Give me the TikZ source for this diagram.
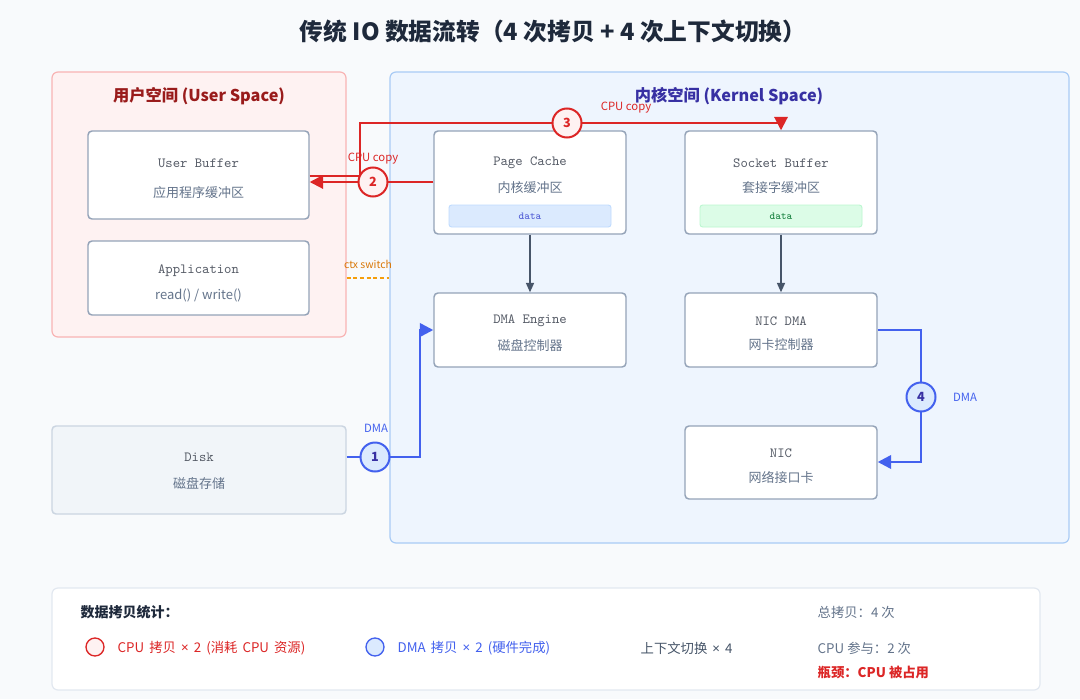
\documentclass[tikz,border=0pt]{standalone}
\usepackage{fontspec}
\setmainfont{Noto Sans CJK SC}
\newfontfamily\legf{Noto Sans CJK SC}[WordSpace=1.7]
\newfontfamily\latf{Noto Sans}
\usetikzlibrary{arrows.meta}
\definecolor{bg}{HTML}{F8FAFC}
\definecolor{userfill}{HTML}{FEF2F2}
\definecolor{userborder}{HTML}{F8B4B4}
\definecolor{usertitle}{HTML}{991B1B}
\definecolor{kernfill}{HTML}{EEF5FE}
\definecolor{kernborder}{HTML}{A9CBF5}
\definecolor{kerntitle}{HTML}{3730A3}
\definecolor{boxborder}{HTML}{94A3B8}
\definecolor{txtgray}{HTML}{475569}
\definecolor{monogray}{HTML}{555B66}
\definecolor{subgray}{HTML}{64748B}
\definecolor{cpured}{HTML}{DC2626}
\definecolor{dmablue}{HTML}{4361EE}
\definecolor{bluefill}{HTML}{DBEAFE}
\definecolor{blueedge}{HTML}{BFDBFE}
\definecolor{greenfill}{HTML}{DCFCE7}
\definecolor{greenedge}{HTML}{BBF7D0}
\definecolor{greentxt}{HTML}{15803D}
\definecolor{datablue}{HTML}{4F5BD5}
\definecolor{ctxtxt}{HTML}{D97706}
\definecolor{ctxline}{HTML}{F59E0B}
\definecolor{diskfill}{HTML}{F1F5F9}
\definecolor{diskedge}{HTML}{CBD5E1}
\definecolor{legedge}{HTML}{E2E8F0}
\definecolor{titlecol}{HTML}{1E293B}
\tikzset{
  region/.style={draw, rounded corners=4.5pt, line width=0.9pt, inner sep=0pt},
  compbox/.style={draw=boxborder, fill=white, rounded corners=3pt, line width=1.1pt, inner sep=0pt},
  monotxt/.style={font=\ttfamily\fontsize{10.5}{12}\selectfont, text=monogray},
  subtxt/.style={font=\fontsize{9.75}{11}\selectfont, text=subgray},
  databar/.style={rounded corners=2pt, line width=0.7pt, inner sep=0pt, minimum width=121.5pt, minimum height=16.5pt, font=\ttfamily\fontsize{8}{9}\selectfont},
  redline/.style={draw=cpured, line width=1.5pt},
  blueline/.style={draw=dmablue, line width=1.9pt},
  redtip/.style={-{Triangle[length=10pt,width=10pt]}},
  bluetip/.style={-{Triangle[length=10pt,width=10pt]}},
  graytip/.style={draw=txtgray, line width=1.1pt, -{Triangle[length=7pt,width=6pt]}},
  redcirc/.style={circle, draw=cpured, fill=userfill, line width=1.5pt, minimum size=21.75pt, inner sep=0pt, text=cpured, font=\bfseries\fontsize{9.5}{10}\selectfont},
  bluecirc/.style={circle, draw=dmablue, fill=bluefill, line width=1.5pt, minimum size=21.75pt, inner sep=0pt, text=kerntitle, font=\bfseries\fontsize{9.5}{10}\selectfont},
  redlbl/.style={text=cpured, font=\fontsize{8.5}{9}\selectfont},
  bluelbl/.style={text=dmablue, font=\fontsize{8.5}{9}\selectfont},
  legtxt/.style={anchor=west, font=\legf\fontsize{10}{11}\selectfont},
  stattxt/.style={anchor=west, font=\fontsize{10}{11}\selectfont},
}
\newcommand{\tms}{{\latf ×}}
\begin{document}
\begin{tikzpicture}[x=0.75pt, y=-0.75pt]
\path[fill=bg] (0,0) rectangle (1080,699);
\useasboundingbox (0,0) rectangle (1080,699);

% title
\node[text=titlecol, font=\bfseries\fontsize{17.8}{20}\selectfont] (title) at (553,31) {传统 IO 数据流转（4 次拷贝 + 4 次上下文切换）};

% regions
\node[region, draw=userborder, fill=userfill, minimum width=220.5pt, minimum height=198.75pt] (us) at (199,204.5) {};
\node[text=usertitle, font=\bfseries\fontsize{12.2}{14}\selectfont] (ust) at (199,96) {用户空间 (User Space)};
\node[region, draw=kernborder, fill=kernfill, minimum width=509.25pt, minimum height=353.25pt] (ks) at (729.5,307.5) {};
\node[text=kerntitle, font=\bfseries\fontsize{12.2}{14}\selectfont] (kst) at (729,96) {内核空间 (Kernel Space)};

% user boxes
\node[compbox, minimum width=165.75pt, minimum height=66pt] (ub) at (198.5,175) {};
\node[monotxt] (ubt) at (198.5,163) {User Buffer};
\node[subtxt] (ubs) at (198.5,193) {应用程序缓冲区};
\node[compbox, minimum width=165.75pt, minimum height=55.5pt] (app) at (198.5,278) {};
\node[monotxt] (appt) at (198.5,271) {Application};
\node[subtxt] (apps) at (198.5,295) {read() / write()};

% disk
\node[compbox, draw=diskedge, fill=diskfill, minimum width=220.5pt, minimum height=66pt] (disk) at (199,470) {};
\node[monotxt] (diskt) at (199,457) {Disk};
\node[subtxt] (disks) at (199,483) {磁盘存储};

% kernel boxes
\node[compbox, minimum width=144pt, minimum height=77.25pt] (pc) at (530,182.5) {};
\node[monotxt] (pct) at (530,163) {Page Cache};
\node[subtxt] (pcs) at (530,188) {内核缓冲区};
\node[databar, draw=blueedge, fill=bluefill, text=datablue] (pcd) at (530,216) {data};

\node[compbox, minimum width=144pt, minimum height=77.25pt] (sb) at (781,182.5) {};
\node[monotxt] (sbt) at (781,163) {Socket Buffer};
\node[subtxt] (sbs) at (781,188) {套接字缓冲区};
\node[databar, draw=greenedge, fill=greenfill, text=greentxt] (sbd) at (781,216) {data};

\node[compbox, minimum width=144pt, minimum height=55.5pt] (de) at (530,330) {};
\node[monotxt] (det) at (530,321) {DMA Engine};
\node[subtxt] (des) at (530,345) {磁盘控制器};

\node[compbox, minimum width=144pt, minimum height=55.5pt] (nd) at (781,330) {};
\node[monotxt] (ndt) at (781,321) {NIC DMA};
\node[subtxt] (nds) at (781,345) {网卡控制器};

\node[compbox, minimum width=144pt, minimum height=54.75pt] (nic) at (781,462.5) {};
\node[monotxt] (nict) at (781,453) {NIC};
\node[subtxt] (nics) at (781,477) {网络接口卡};

% gray arrows
\draw[graytip] (pc.south) -- (de.north);
\draw[graytip] (sb.south) -- (nd.north);

% ctx switch
\coordinate (cx) at (368,278);
\draw[draw=ctxline, line width=0.9pt, dash pattern=on 3pt off 2pt] (us.east |- cx) -- (ks.west |- cx);
\node[text=ctxtxt, font=\fontsize{7.8}{8}\selectfont] (cxt) at (368,264) {ctx switch};

% copy 3 (CPU)
\coordinate (p3a) at (360,176);
\coordinate (p3b) at (360,123);
\draw[redline, redtip] (ub.east |- p3a) -- (p3a) -- (p3b) -- (sb.north |- p3b) -- (sb.north);
\node[redcirc] (c3) at (567,123) {3};
\node[redlbl] (l3) at (626,108) {CPU copy};

% copy 2 (CPU)
\coordinate (p2) at (373,182);
\draw[redline, redtip] (pc.west |- p2) -- (ub.east |- p2);
\node[redcirc] (c2) at (p2) {2};
\node[redlbl] (l2) at (373,159) {CPU copy};

% copy 1 (DMA)
\coordinate (p1) at (375,457);
\coordinate (p1a) at (420,457);
\coordinate (p1b) at (420,330);
\draw[blueline, bluetip] (disk.east |- p1) -- (p1a) -- (p1b) -- (de.west);
\node[bluecirc] (c1) at (p1) {1};
\node[bluelbl] (l1) at (376,428) {DMA};

% copy 4 (DMA)
\coordinate (p4a) at (921,330);
\coordinate (p4b) at (921,462);
\draw[blueline, bluetip] (nd.east) -- (p4a) -- (p4b) -- (nic.east |- p4b);
\node[bluecirc] (c4) at (921,397) {4};
\node[bluelbl] (l4) at (965,397) {DMA};

% legend
\node[draw=legedge, fill=white, rounded corners=4.5pt, line width=0.9pt, minimum width=741pt, minimum height=76.5pt, inner sep=0pt] (leg) at (546,639) {};
\node[anchor=west, text=titlecol, font=\bfseries\fontsize{10.5}{12}\selectfont] (legt) at (76,612) {数据拷贝统计：};
\node[circle, draw=cpured, fill=userfill, line width=1pt, minimum size=13.5pt, inner sep=0pt] (lc1) at (95,647) {};
\node[legtxt, text=cpured] (lt1) at (113,648) {CPU 拷贝 \tms{} 2 (消耗 CPU 资源)};
\node[circle, draw=dmablue, fill=bluefill, line width=1pt, minimum size=13.5pt, inner sep=0pt] (lc2) at (375,647) {};
\node[legtxt, text=dmablue] (lt2) at (393,648) {DMA 拷贝 \tms{} 2 (硬件完成)};
\node[legtxt, text=txtgray] (lt3) at (636,648) {上下文切换 \tms{} 4};
\node[stattxt, text=subgray] (lt4) at (813,612) {总拷贝：4 次};
\node[stattxt, text=subgray] (lt5) at (813,648) {CPU 参与：2 次};
\node[stattxt, text=cpured, font=\bfseries\fontsize{10}{11}\selectfont] (lt6) at (813,672) {瓶颈：CPU 被占用};
\end{tikzpicture}
\end{document}
